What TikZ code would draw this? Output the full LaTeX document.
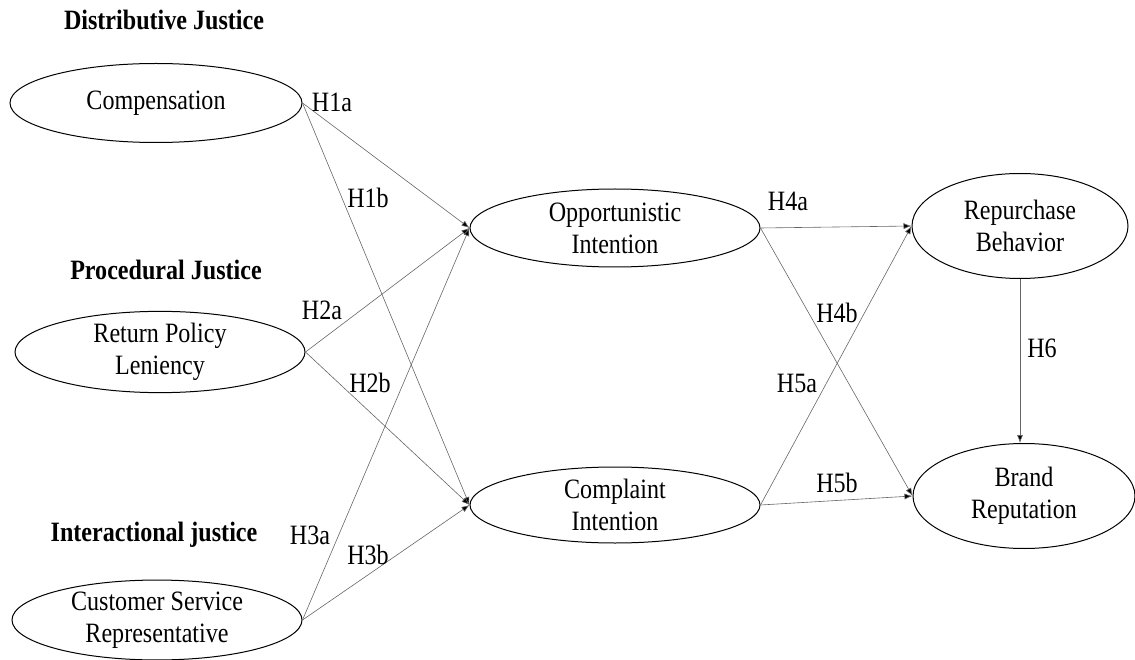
\documentclass[tikz,border=0pt]{standalone}
\usepackage{fontspec}
\setmainfont[FakeStretch=0.86]{Liberation Serif}
\usetikzlibrary{shapes.geometric,arrows.meta}
\begin{document}
\begin{tikzpicture}[x=1pt,y=-1pt,
  construct/.style={draw=black,line width=1pt,ellipse,inner sep=0pt,align=center,
    font=\fontsize{28}{32}\selectfont},
  heading/.style={font=\fontsize{28}{32}\selectfont\bfseries,inner sep=0pt},
  hlabel/.style={font=\fontsize{28}{32}\selectfont,inner sep=0pt},
  path/.style={draw=black!60,line width=0.6pt,-{Latex[length=8pt,width=6pt,fill=black]}}]
\useasboundingbox (0,0) rectangle (1135,660);
% headings
\node[heading] (hd1) at (164,20) {Distributive Justice};
\node[heading] (hd2) at (166,270) {Procedural Justice};
\node[heading] (hd3) at (154,535) {Interactional justice};
% constructs
\node[construct,minimum width=292pt,minimum height=79pt] (comp) at (156,103) {Compensation};
\node[construct,minimum width=290pt,minimum height=80pt] (rpl) at (160,352) {Return Policy\\Leniency};
\node[construct,minimum width=290pt,minimum height=76pt] (csr) at (157,620) {Customer Service\\Representative};
\node[construct,minimum width=290pt,minimum height=78pt] (opp) at (615,228) {Opportunistic\\Intention};
\node[construct,minimum width=290pt,minimum height=76pt] (cmp) at (615,505) {Complaint\\Intention};
\node[construct,minimum width=216pt,minimum height=105pt] (rep) at (1020,226) {Repurchase\\Behavior};
\node[construct,minimum width=222pt,minimum height=105pt] (brand) at (1024,496) {Brand\\Reputation};
% paths
\draw[path] (comp.east) -- (opp.west);
\draw[path] (comp.east) -- (cmp.west);
\draw[path] (rpl.east) -- (opp.west);
\draw[path] (rpl.east) -- (cmp.west);
\draw[path] (csr.east) -- (opp.west);
\draw[path] (csr.east) -- (cmp.west);
\draw[path] (opp.east) -- (rep.west);
\draw[path] (opp.east) -- (brand.west);
\draw[path] (cmp.east) -- (rep.west);
\draw[path] (cmp.east) -- (brand.west);
\draw[path] (rep.south) -- (rep.south |- brand.north);
% labels
\node[hlabel] (l1a) at (332,102) {H1a};
\node[hlabel] (l1b) at (368,198) {H1b};
\node[hlabel] (l2a) at (322,310) {H2a};
\node[hlabel] (l2b) at (370,383) {H2b};
\node[hlabel] (l3a) at (310,535) {H3a};
\node[hlabel] (l3b) at (368,555) {H3b};
\node[hlabel] (l4a) at (788,201) {H4a};
\node[hlabel] (l4b) at (837,313) {H4b};
\node[hlabel] (l5a) at (797,383) {H5a};
\node[hlabel] (l5b) at (837,483) {H5b};
\node[hlabel] (l6) at (1042,348) {H6};
\end{tikzpicture}
\end{document}
